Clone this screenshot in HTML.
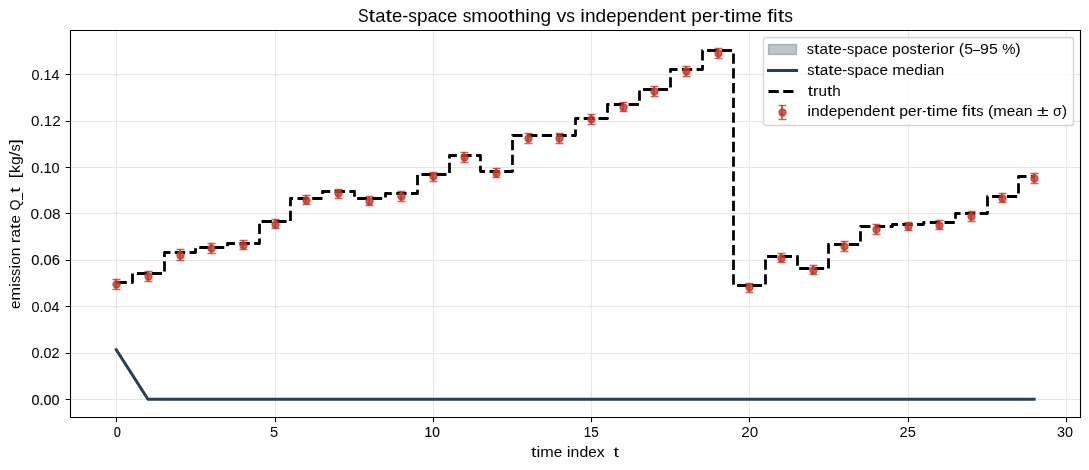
<!DOCTYPE html>
<html><head><meta charset="utf-8"><title>State-space smoothing vs independent per-time fits</title>
<style>html,body{margin:0;padding:0;background:#fff;width:1089px;height:470px;overflow:hidden;}svg{display:block;}text{font-family:"Liberation Sans",sans-serif;fill:#000;white-space:pre;}.t{opacity:0.999}</style>
</head><body>
<svg width="1089" height="470" viewBox="0 0 1089 470">
<rect width="1089" height="470" fill="#fff"/>
<path d="M116.5 30.16V417.16M275.5 30.16V417.16M433.5 30.16V417.16M591.5 30.16V417.16M749.5 30.16V417.16M908.5 30.16V417.16M1066.5 30.16V417.16M70.40 399.5H1080.02M70.40 353.5H1080.02M70.40 306.5H1080.02M70.40 260.5H1080.02M70.40 213.5H1080.02M70.40 167.5H1080.02M70.40 121.5H1080.02M70.40 74.5H1080.02" stroke="#b0b0b0" stroke-opacity="0.3" stroke-width="1.11" fill="none"/>
<path d="M116.29 349.83 L147.94 399.25 L179.59 399.25 L211.24 399.25 L242.89 399.25 L274.54 399.25 L306.19 399.25 L337.84 399.25 L369.49 399.25 L401.14 399.25 L432.79 399.25 L464.44 399.25 L496.09 399.25 L527.74 399.25 L559.39 399.25 L591.04 399.25 L622.69 399.25 L654.33 399.25 L685.98 399.25 L717.63 399.25 L749.28 399.25 L780.93 399.25 L812.58 399.25 L844.23 399.25 L875.88 399.25 L907.53 399.25 L939.18 399.25 L970.83 399.25 L1002.48 399.25 L1034.13 399.25" stroke="#2c3e50" stroke-width="3.06" fill="none" stroke-linecap="square" stroke-linejoin="round"/>
<path d="M116.5 282.5 L132.5 282.5 L132.5 273.5 L164.5 273.5 L164.5 252.5 L195.5 252.5 L195.5 247.5 L227.5 247.5 L227.5 243.5 L259.5 243.5 L259.5 221.5 L290.5 221.5 L290.5 198.5 L322.5 198.5 L322.5 191.5 L354.5 191.5 L354.5 198.5 L385.5 198.5 L385.5 193.5 L417.5 193.5 L417.5 174.5 L449.5 174.5 L449.5 155.5 L480.5 155.5 L480.5 171.5 L512.5 171.5 L512.5 135.5 L544.5 135.5 L544.5 135.5 L575.5 135.5 L575.5 118.5 L607.5 118.5 L607.5 104.5 L639.5 104.5 L639.5 89.5 L670.5 89.5 L670.5 69.5 L702.5 69.5 L702.5 50.5 L733.5 50.5 L733.5 285.5 L765.5 285.5 L765.5 256.5 L797.5 256.5 L797.5 268.5 L828.5 268.5 L828.5 244.5 L860.5 244.5 L860.5 226.5 L892.5 226.5 L892.5 224.5 L923.5 224.5 L923.5 222.5 L955.5 222.5 L955.5 213.5 L987.5 213.5 L987.5 196.5 L1018.5 196.5 L1018.5 176.5 L1034.5 176.5" stroke="#000" stroke-width="2.78" fill="none" stroke-dasharray="10.278 4.444" stroke-linejoin="round" stroke-linecap="butt"/>
<path d="M116.0 279V289M148.0 271V281M180.0 249V260M211.0 243V253M243.0 240V249M275.0 219V228M306.0 195V204M338.0 189V198M369.0 196V205M401.0 191V201M433.0 172V181M464.0 152V162M496.0 168V177M528.0 133V143M559.0 133V143M591.0 114V124M623.0 102V111M654.0 86V96M686.0 66V76M718.0 48V58M749.0 283V292M781.0 253V262M813.0 265V274M844.0 241V251M876.0 224V234M908.0 222V230M939.0 220V229M971.0 211V221M1002.0 193V202M1034.0 173V183" stroke="#c0392b" stroke-opacity="0.8" stroke-width="2.08" fill="none"/>
<g stroke="#c0392b" stroke-opacity="0.8" stroke-width="1.39" fill="none"><path d="M112.5 279.5h8M112.5 289.5h8"/><path d="M144.5 271.5h8M144.5 281.5h8"/><path d="M176.5 249.5h8M176.5 260.5h8"/><path d="M207.5 243.5h8M207.5 253.5h8"/><path d="M239.5 240.5h8M239.5 249.5h8"/><path d="M271.5 219.5h8M271.5 228.5h8"/><path d="M302.5 195.5h8M302.5 204.5h8"/><path d="M334.5 189.5h8M334.5 198.5h8"/><path d="M365.5 196.5h8M365.5 205.5h8"/><path d="M397.5 191.5h8M397.5 201.5h8"/><path d="M429.5 172.5h8M429.5 181.5h8"/><path d="M460.5 152.5h8M460.5 162.5h8"/><path d="M492.5 168.5h8M492.5 177.5h8"/><path d="M524.5 133.5h8M524.5 143.5h8"/><path d="M555.5 133.5h8M555.5 143.5h8"/><path d="M587.5 114.5h8M587.5 124.5h8"/><path d="M619.5 102.5h8M619.5 111.5h8"/><path d="M650.5 86.5h8M650.5 96.5h8"/><path d="M682.5 66.5h8M682.5 76.5h8"/><path d="M714.5 48.5h8M714.5 58.5h8"/><path d="M745.5 283.5h8M745.5 292.5h8"/><path d="M777.5 253.5h8M777.5 262.5h8"/><path d="M809.5 265.5h8M809.5 274.5h8"/><path d="M840.5 241.5h8M840.5 251.5h8"/><path d="M872.5 224.5h8M872.5 234.5h8"/><path d="M904.5 222.5h8M904.5 230.5h8"/><path d="M935.5 220.5h8M935.5 229.5h8"/><path d="M967.5 211.5h8M967.5 221.5h8"/><path d="M998.5 193.5h8M998.5 202.5h8"/><path d="M1030.5 173.5h8M1030.5 183.5h8"/></g>
<g fill="#c0392b" fill-opacity="0.8" stroke="#c0392b" stroke-opacity="0.8" stroke-width="1.39"><circle cx="116.5" cy="284.5" r="3.47"/><circle cx="148.5" cy="276.5" r="3.47"/><circle cx="180.5" cy="255.5" r="3.47"/><circle cx="211.5" cy="248.5" r="3.47"/><circle cx="243.5" cy="245.5" r="3.47"/><circle cx="275.5" cy="224.5" r="3.47"/><circle cx="306.5" cy="200.5" r="3.47"/><circle cx="338.5" cy="193.5" r="3.47"/><circle cx="369.5" cy="201.5" r="3.47"/><circle cx="401.5" cy="196.5" r="3.47"/><circle cx="433.5" cy="176.5" r="3.47"/><circle cx="464.5" cy="157.5" r="3.47"/><circle cx="496.5" cy="173.5" r="3.47"/><circle cx="528.5" cy="138.5" r="3.47"/><circle cx="559.5" cy="138.5" r="3.47"/><circle cx="591.5" cy="119.5" r="3.47"/><circle cx="623.5" cy="107.5" r="3.47"/><circle cx="654.5" cy="91.5" r="3.47"/><circle cx="686.5" cy="71.5" r="3.47"/><circle cx="718.5" cy="53.5" r="3.47"/><circle cx="749.5" cy="287.5" r="3.47"/><circle cx="781.5" cy="258.5" r="3.47"/><circle cx="813.5" cy="270.5" r="3.47"/><circle cx="844.5" cy="246.5" r="3.47"/><circle cx="876.5" cy="229.5" r="3.47"/><circle cx="908.5" cy="226.5" r="3.47"/><circle cx="939.5" cy="225.5" r="3.47"/><circle cx="971.5" cy="216.5" r="3.47"/><circle cx="1002.5" cy="198.5" r="3.47"/><circle cx="1034.5" cy="178.5" r="3.47"/></g>
<path d="M70.5 30.5V417.5M1080.5 30.5V417.5M70.5 30.5H1080.5M70.5 417.5H1080.5" stroke="#000" stroke-width="1.11" fill="none" stroke-linecap="square"/>
<path d="M116.5 417.5v4.86M275.5 417.5v4.86M433.5 417.5v4.86M591.5 417.5v4.86M749.5 417.5v4.86M908.5 417.5v4.86M1066.5 417.5v4.86M70.5 399.5h-4.86M70.5 353.5h-4.86M70.5 306.5h-4.86M70.5 260.5h-4.86M70.5 213.5h-4.86M70.5 167.5h-4.86M70.5 121.5h-4.86M70.5 74.5h-4.86" stroke="#000" stroke-width="1.11" fill="none"/>
<rect x="763.50" y="37.50" width="310.00" height="88.00" rx="2.78" fill="#fff" fill-opacity="0.8" stroke="#ccc" stroke-opacity="0.8" stroke-width="1.39"/>
<rect x="768.5" y="44.5" width="28.0" height="10.0" fill="#2c3e50" fill-opacity="0.3" stroke="#2c3e50" stroke-opacity="0.3" stroke-width="1.39"/>
<path d="M768.5 70.5H796.5" stroke="#2c3e50" stroke-width="3.06" stroke-linecap="square"/>
<path d="M768.5 91.5H796.5" stroke="#000" stroke-width="2.78" stroke-dasharray="10.278 4.444"/>
<path d="M782.0 105V119" stroke="#c0392b" stroke-opacity="0.8" stroke-width="2.08"/>
<path d="M778.5 105.5h8" stroke="#c0392b" stroke-opacity="0.8" stroke-width="1.39"/>
<path d="M778.5 119.5h8" stroke="#c0392b" stroke-opacity="0.8" stroke-width="1.39"/>
<circle cx="782.5" cy="112.5" r="3.47" fill="#c0392b" fill-opacity="0.8" stroke="#c0392b" stroke-opacity="0.8" stroke-width="1.39"/>
<g class="t">
<text x="358.00" y="21.90" font-size="18.21" textLength="10.62" lengthAdjust="spacingAndGlyphs">S</text>
<text x="368.62" y="21.90" font-size="18.21" textLength="6.56" lengthAdjust="spacingAndGlyphs">t</text>
<text x="375.17" y="21.90" font-size="18.21" textLength="10.25" lengthAdjust="spacingAndGlyphs">a</text>
<text x="385.42" y="21.90" font-size="18.21" textLength="6.56" lengthAdjust="spacingAndGlyphs">t</text>
<text x="391.97" y="21.90" font-size="18.21" textLength="10.29" lengthAdjust="spacingAndGlyphs">e</text>
<text x="402.26" y="21.90" font-size="18.21" textLength="6.03" lengthAdjust="spacingAndGlyphs">-</text>
<text x="408.29" y="21.90" font-size="18.21" textLength="8.71" lengthAdjust="spacingAndGlyphs">s</text>
<text x="417.01" y="21.90" font-size="18.21" textLength="10.62" lengthAdjust="spacingAndGlyphs">p</text>
<text x="427.62" y="21.90" font-size="18.21" textLength="10.25" lengthAdjust="spacingAndGlyphs">a</text>
<text x="437.87" y="21.90" font-size="18.21" textLength="9.19" lengthAdjust="spacingAndGlyphs">c</text>
<text x="447.06" y="21.90" font-size="18.21" textLength="10.29" lengthAdjust="spacingAndGlyphs">e</text>
<text x="462.66" y="21.90" font-size="18.21" textLength="8.71" lengthAdjust="spacingAndGlyphs">s</text>
<text x="471.38" y="21.90" font-size="18.21" textLength="16.29" lengthAdjust="spacingAndGlyphs">m</text>
<text x="487.66" y="21.90" font-size="18.21" textLength="10.23" lengthAdjust="spacingAndGlyphs">o</text>
<text x="497.89" y="21.90" font-size="18.21" textLength="10.23" lengthAdjust="spacingAndGlyphs">o</text>
<text x="508.13" y="21.90" font-size="18.21" textLength="6.56" lengthAdjust="spacingAndGlyphs">t</text>
<text x="514.68" y="21.90" font-size="18.21" textLength="10.60" lengthAdjust="spacingAndGlyphs">h</text>
<text x="525.28" y="21.90" font-size="18.21" textLength="4.65" lengthAdjust="spacingAndGlyphs">i</text>
<text x="529.92" y="21.90" font-size="18.21" textLength="10.60" lengthAdjust="spacingAndGlyphs">n</text>
<text x="540.52" y="21.90" font-size="18.21" textLength="10.62" lengthAdjust="spacingAndGlyphs">g</text>
<text x="556.45" y="21.90" font-size="18.21" textLength="9.90" lengthAdjust="spacingAndGlyphs">v</text>
<text x="566.35" y="21.90" font-size="18.21" textLength="8.71" lengthAdjust="spacingAndGlyphs">s</text>
<text x="580.37" y="21.90" font-size="18.21" textLength="4.65" lengthAdjust="spacingAndGlyphs">i</text>
<text x="585.02" y="21.90" font-size="18.21" textLength="10.60" lengthAdjust="spacingAndGlyphs">n</text>
<text x="595.62" y="21.90" font-size="18.21" textLength="10.62" lengthAdjust="spacingAndGlyphs">d</text>
<text x="606.23" y="21.90" font-size="18.21" textLength="10.29" lengthAdjust="spacingAndGlyphs">e</text>
<text x="616.52" y="21.90" font-size="18.21" textLength="10.62" lengthAdjust="spacingAndGlyphs">p</text>
<text x="627.13" y="21.90" font-size="18.21" textLength="10.29" lengthAdjust="spacingAndGlyphs">e</text>
<text x="637.42" y="21.90" font-size="18.21" textLength="10.60" lengthAdjust="spacingAndGlyphs">n</text>
<text x="648.02" y="21.90" font-size="18.21" textLength="10.62" lengthAdjust="spacingAndGlyphs">d</text>
<text x="658.64" y="21.90" font-size="18.21" textLength="10.29" lengthAdjust="spacingAndGlyphs">e</text>
<text x="668.93" y="21.90" font-size="18.21" textLength="10.60" lengthAdjust="spacingAndGlyphs">n</text>
<text x="679.52" y="21.90" font-size="18.21" textLength="6.56" lengthAdjust="spacingAndGlyphs">t</text>
<text x="691.39" y="21.90" font-size="18.21" textLength="10.62" lengthAdjust="spacingAndGlyphs">p</text>
<text x="702.01" y="21.90" font-size="18.21" textLength="10.29" lengthAdjust="spacingAndGlyphs">e</text>
<text x="712.30" y="21.90" font-size="18.21" textLength="6.87" lengthAdjust="spacingAndGlyphs">r</text>
<text x="719.17" y="21.90" font-size="18.21" textLength="4.96" lengthAdjust="spacingAndGlyphs">-</text>
<text x="724.13" y="21.90" font-size="18.21" textLength="6.56" lengthAdjust="spacingAndGlyphs">t</text>
<text x="730.69" y="21.90" font-size="18.21" textLength="4.65" lengthAdjust="spacingAndGlyphs">i</text>
<text x="735.33" y="21.90" font-size="18.21" textLength="16.29" lengthAdjust="spacingAndGlyphs">m</text>
<text x="751.62" y="21.90" font-size="18.21" textLength="10.29" lengthAdjust="spacingAndGlyphs">e</text>
<text x="767.23" y="21.90" font-size="18.21" textLength="5.89" lengthAdjust="spacingAndGlyphs">f</text>
<text x="773.11" y="21.90" font-size="18.21" textLength="4.65" lengthAdjust="spacingAndGlyphs">i</text>
<text x="777.76" y="21.90" font-size="18.21" textLength="6.56" lengthAdjust="spacingAndGlyphs">t</text>
<text x="784.31" y="21.90" font-size="18.21" textLength="8.71" lengthAdjust="spacingAndGlyphs">s</text>
<text x="531.00" y="456.94" font-size="14.29" textLength="5.44" lengthAdjust="spacingAndGlyphs">t</text>
<text x="536.44" y="456.94" font-size="14.29" textLength="3.86" lengthAdjust="spacingAndGlyphs">i</text>
<text x="540.30" y="456.94" font-size="14.29" textLength="13.52" lengthAdjust="spacingAndGlyphs">m</text>
<text x="553.81" y="456.94" font-size="14.29" textLength="8.54" lengthAdjust="spacingAndGlyphs">e</text>
<text x="566.77" y="456.94" font-size="14.29" textLength="3.86" lengthAdjust="spacingAndGlyphs">i</text>
<text x="570.62" y="456.94" font-size="14.29" textLength="8.80" lengthAdjust="spacingAndGlyphs">n</text>
<text x="579.42" y="456.94" font-size="14.29" textLength="8.81" lengthAdjust="spacingAndGlyphs">d</text>
<text x="588.23" y="456.94" font-size="14.29" textLength="8.54" lengthAdjust="spacingAndGlyphs">e</text>
<text x="596.77" y="456.94" font-size="14.29" textLength="7.97" lengthAdjust="spacingAndGlyphs">x</text>
<text x="613.56" y="456.94" font-size="14.29" textLength="5.44" lengthAdjust="spacingAndGlyphs">t</text>
<text transform="translate(19.87 309.00) rotate(-90)" font-size="14.29" textLength="8.53" lengthAdjust="spacingAndGlyphs">e</text>
<text transform="translate(19.87 300.47) rotate(-90)" font-size="14.29" textLength="13.50" lengthAdjust="spacingAndGlyphs">m</text>
<text transform="translate(19.87 286.97) rotate(-90)" font-size="14.29" textLength="3.85" lengthAdjust="spacingAndGlyphs">i</text>
<text transform="translate(19.87 283.12) rotate(-90)" font-size="14.29" textLength="7.22" lengthAdjust="spacingAndGlyphs">s</text>
<text transform="translate(19.87 275.90) rotate(-90)" font-size="14.29" textLength="7.22" lengthAdjust="spacingAndGlyphs">s</text>
<text transform="translate(19.87 268.68) rotate(-90)" font-size="14.29" textLength="3.85" lengthAdjust="spacingAndGlyphs">i</text>
<text transform="translate(19.87 264.83) rotate(-90)" font-size="14.29" textLength="8.48" lengthAdjust="spacingAndGlyphs">o</text>
<text transform="translate(19.87 256.35) rotate(-90)" font-size="14.29" textLength="8.78" lengthAdjust="spacingAndGlyphs">n</text>
<text transform="translate(19.87 243.16) rotate(-90)" font-size="14.29" textLength="5.70" lengthAdjust="spacingAndGlyphs">r</text>
<text transform="translate(19.87 237.46) rotate(-90)" font-size="14.29" textLength="8.49" lengthAdjust="spacingAndGlyphs">a</text>
<text transform="translate(19.87 228.96) rotate(-90)" font-size="14.29" textLength="5.43" lengthAdjust="spacingAndGlyphs">t</text>
<text transform="translate(19.87 223.53) rotate(-90)" font-size="14.29" textLength="8.53" lengthAdjust="spacingAndGlyphs">e</text>
<text transform="translate(19.87 210.59) rotate(-90)" font-size="14.29" textLength="10.91" lengthAdjust="spacingAndGlyphs">Q</text>
<text transform="translate(19.87 199.68) rotate(-90)" font-size="14.29" textLength="6.93" lengthAdjust="spacingAndGlyphs">_</text>
<text transform="translate(19.87 192.75) rotate(-90)" font-size="14.29" textLength="5.43" lengthAdjust="spacingAndGlyphs">t</text>
<text transform="translate(19.87 178.51) rotate(-90)" font-size="14.29" textLength="5.41" lengthAdjust="spacingAndGlyphs">[</text>
<text transform="translate(19.87 173.10) rotate(-90)" font-size="14.29" textLength="8.03" lengthAdjust="spacingAndGlyphs">k</text>
<text transform="translate(19.87 165.07) rotate(-90)" font-size="14.29" textLength="8.80" lengthAdjust="spacingAndGlyphs">g</text>
<text transform="translate(19.87 156.27) rotate(-90)" font-size="14.29" textLength="4.67" lengthAdjust="spacingAndGlyphs">/</text>
<text transform="translate(19.87 151.60) rotate(-90)" font-size="14.29" textLength="7.22" lengthAdjust="spacingAndGlyphs">s</text>
<text transform="translate(19.87 144.38) rotate(-90)" font-size="14.29" textLength="5.41" lengthAdjust="spacingAndGlyphs">]</text>
<text x="31.50" y="404.75" font-size="15.18" textLength="8.01" lengthAdjust="spacingAndGlyphs" stroke="#000" stroke-width="0.17">0</text>
<text x="39.51" y="404.75" font-size="15.18" textLength="4.00" lengthAdjust="spacingAndGlyphs" stroke="#000" stroke-width="0.17">.</text>
<text x="43.51" y="404.75" font-size="15.18" textLength="8.01" lengthAdjust="spacingAndGlyphs" stroke="#000" stroke-width="0.17">0</text>
<text x="51.52" y="404.75" font-size="15.18" textLength="8.01" lengthAdjust="spacingAndGlyphs" stroke="#000" stroke-width="0.17">0</text>
<text x="31.50" y="357.80" font-size="15.18" textLength="8.01" lengthAdjust="spacingAndGlyphs" stroke="#000" stroke-width="0.08">0</text>
<text x="39.51" y="357.80" font-size="15.18" textLength="4.00" lengthAdjust="spacingAndGlyphs" stroke="#000" stroke-width="0.08">.</text>
<text x="43.51" y="357.80" font-size="15.18" textLength="8.01" lengthAdjust="spacingAndGlyphs" stroke="#000" stroke-width="0.08">0</text>
<text x="51.53" y="357.80" font-size="15.18" textLength="8.01" lengthAdjust="spacingAndGlyphs" stroke="#000" stroke-width="0.08">2</text>
<text x="31.50" y="311.85" font-size="15.18" textLength="8.00" lengthAdjust="spacingAndGlyphs">0</text>
<text x="39.50" y="311.85" font-size="15.18" textLength="4.00" lengthAdjust="spacingAndGlyphs">.</text>
<text x="43.50" y="311.85" font-size="15.18" textLength="8.00" lengthAdjust="spacingAndGlyphs">0</text>
<text x="51.50" y="311.85" font-size="15.18" textLength="8.00" lengthAdjust="spacingAndGlyphs">4</text>
<text x="31.25" y="264.90" font-size="14.29" textLength="8.18" lengthAdjust="spacingAndGlyphs" stroke="#000" stroke-width="0.13">0</text>
<text x="39.43" y="264.90" font-size="14.29" textLength="4.09" lengthAdjust="spacingAndGlyphs" stroke="#000" stroke-width="0.13">.</text>
<text x="43.52" y="264.90" font-size="14.29" textLength="8.18" lengthAdjust="spacingAndGlyphs" stroke="#000" stroke-width="0.13">0</text>
<text x="51.70" y="264.90" font-size="14.29" textLength="8.18" lengthAdjust="spacingAndGlyphs" stroke="#000" stroke-width="0.13">6</text>
<text x="30.50" y="218.95" font-size="14.29" textLength="8.60" lengthAdjust="spacingAndGlyphs">0</text>
<text x="39.10" y="218.95" font-size="14.29" textLength="4.30" lengthAdjust="spacingAndGlyphs">.</text>
<text x="43.40" y="218.95" font-size="14.29" textLength="8.60" lengthAdjust="spacingAndGlyphs">0</text>
<text x="52.01" y="218.95" font-size="14.29" textLength="8.60" lengthAdjust="spacingAndGlyphs">8</text>
<text x="31.25" y="172.50" font-size="15.18" textLength="8.13" lengthAdjust="spacingAndGlyphs" stroke="#000" stroke-width="0.07">0</text>
<text x="39.38" y="172.50" font-size="15.18" textLength="4.06" lengthAdjust="spacingAndGlyphs" stroke="#000" stroke-width="0.07">.</text>
<text x="43.44" y="172.50" font-size="15.18" textLength="8.13" lengthAdjust="spacingAndGlyphs" stroke="#000" stroke-width="0.07">1</text>
<text x="51.57" y="172.50" font-size="15.18" textLength="8.13" lengthAdjust="spacingAndGlyphs" stroke="#000" stroke-width="0.07">0</text>
<text x="31.00" y="125.55" font-size="15.18" textLength="8.48" lengthAdjust="spacingAndGlyphs">0</text>
<text x="39.48" y="125.55" font-size="15.18" textLength="4.23" lengthAdjust="spacingAndGlyphs">.</text>
<text x="43.71" y="125.55" font-size="15.18" textLength="8.48" lengthAdjust="spacingAndGlyphs">1</text>
<text x="52.19" y="125.55" font-size="15.18" textLength="8.48" lengthAdjust="spacingAndGlyphs">2</text>
<text x="31.50" y="79.60" font-size="14.29" textLength="8.00" lengthAdjust="spacingAndGlyphs">0</text>
<text x="39.50" y="79.60" font-size="14.29" textLength="4.00" lengthAdjust="spacingAndGlyphs">.</text>
<text x="43.50" y="79.60" font-size="14.29" textLength="8.00" lengthAdjust="spacingAndGlyphs">1</text>
<text x="51.50" y="79.60" font-size="14.29" textLength="8.00" lengthAdjust="spacingAndGlyphs">4</text>
<text x="113.75" y="436.88" font-size="14.29" textLength="7.10" lengthAdjust="spacingAndGlyphs" stroke="#000" stroke-width="0.19">0</text>
<text x="270.00" y="436.88" font-size="14.29" textLength="8.17" lengthAdjust="spacingAndGlyphs">5</text>
<text x="424.50" y="436.88" font-size="14.29" textLength="7.65" lengthAdjust="spacingAndGlyphs" stroke="#000" stroke-width="0.18">1</text>
<text x="432.15" y="436.88" font-size="14.29" textLength="7.65" lengthAdjust="spacingAndGlyphs" stroke="#000" stroke-width="0.18">0</text>
<text x="583.75" y="436.88" font-size="15.18" textLength="7.54" lengthAdjust="spacingAndGlyphs" stroke="#000" stroke-width="0.05">1</text>
<text x="591.29" y="436.88" font-size="15.18" textLength="7.54" lengthAdjust="spacingAndGlyphs" stroke="#000" stroke-width="0.05">5</text>
<text x="741.25" y="436.88" font-size="14.73" textLength="8.48" lengthAdjust="spacingAndGlyphs">2</text>
<text x="749.73" y="436.88" font-size="14.73" textLength="8.48" lengthAdjust="spacingAndGlyphs">0</text>
<text x="899.50" y="436.88" font-size="14.73" textLength="8.19" lengthAdjust="spacingAndGlyphs">2</text>
<text x="907.69" y="436.88" font-size="14.73" textLength="8.19" lengthAdjust="spacingAndGlyphs">5</text>
<text x="1057.00" y="436.88" font-size="14.73" textLength="8.04" lengthAdjust="spacingAndGlyphs">3</text>
<text x="1065.04" y="436.88" font-size="14.73" textLength="8.04" lengthAdjust="spacingAndGlyphs">0</text>
<text x="806.75" y="53.66" font-size="15.18" textLength="7.24" lengthAdjust="spacingAndGlyphs">s</text>
<text x="813.99" y="53.66" font-size="15.18" textLength="5.45" lengthAdjust="spacingAndGlyphs">t</text>
<text x="819.43" y="53.66" font-size="15.18" textLength="8.51" lengthAdjust="spacingAndGlyphs">a</text>
<text x="827.94" y="53.66" font-size="15.18" textLength="5.45" lengthAdjust="spacingAndGlyphs">t</text>
<text x="833.39" y="53.66" font-size="15.18" textLength="8.55" lengthAdjust="spacingAndGlyphs">e</text>
<text x="841.94" y="53.66" font-size="15.18" textLength="5.01" lengthAdjust="spacingAndGlyphs">-</text>
<text x="846.95" y="53.66" font-size="15.18" textLength="7.24" lengthAdjust="spacingAndGlyphs">s</text>
<text x="854.19" y="53.66" font-size="15.18" textLength="8.82" lengthAdjust="spacingAndGlyphs">p</text>
<text x="863.00" y="53.66" font-size="15.18" textLength="8.51" lengthAdjust="spacingAndGlyphs">a</text>
<text x="871.52" y="53.66" font-size="15.18" textLength="7.64" lengthAdjust="spacingAndGlyphs">c</text>
<text x="879.15" y="53.66" font-size="15.18" textLength="8.55" lengthAdjust="spacingAndGlyphs">e</text>
<text x="892.12" y="53.66" font-size="15.18" textLength="8.82" lengthAdjust="spacingAndGlyphs">p</text>
<text x="900.93" y="53.66" font-size="15.18" textLength="8.50" lengthAdjust="spacingAndGlyphs">o</text>
<text x="909.43" y="53.66" font-size="15.18" textLength="7.24" lengthAdjust="spacingAndGlyphs">s</text>
<text x="916.67" y="53.66" font-size="15.18" textLength="5.45" lengthAdjust="spacingAndGlyphs">t</text>
<text x="922.12" y="53.66" font-size="15.18" textLength="8.55" lengthAdjust="spacingAndGlyphs">e</text>
<text x="930.66" y="53.66" font-size="15.18" textLength="5.71" lengthAdjust="spacingAndGlyphs">r</text>
<text x="936.37" y="53.66" font-size="15.18" textLength="3.86" lengthAdjust="spacingAndGlyphs">i</text>
<text x="940.23" y="53.66" font-size="15.18" textLength="8.50" lengthAdjust="spacingAndGlyphs">o</text>
<text x="948.73" y="53.66" font-size="15.18" textLength="5.71" lengthAdjust="spacingAndGlyphs">r</text>
<text x="958.86" y="53.66" font-size="15.18" textLength="5.42" lengthAdjust="spacingAndGlyphs">(</text>
<text x="964.28" y="53.66" font-size="15.18" textLength="8.84" lengthAdjust="spacingAndGlyphs">5</text>
<text x="973.11" y="53.66" font-size="15.18" textLength="6.95" lengthAdjust="spacingAndGlyphs">–</text>
<text x="980.06" y="53.66" font-size="15.18" textLength="8.84" lengthAdjust="spacingAndGlyphs">9</text>
<text x="988.90" y="53.66" font-size="15.18" textLength="8.84" lengthAdjust="spacingAndGlyphs">5</text>
<text x="1002.15" y="53.66" font-size="15.18" textLength="13.20" lengthAdjust="spacingAndGlyphs">%</text>
<text x="1015.35" y="53.66" font-size="15.18" textLength="5.42" lengthAdjust="spacingAndGlyphs">)</text>
<text x="807.25" y="74.60" font-size="14.73" textLength="7.21" lengthAdjust="spacingAndGlyphs">s</text>
<text x="814.46" y="74.60" font-size="14.73" textLength="5.43" lengthAdjust="spacingAndGlyphs">t</text>
<text x="819.89" y="74.60" font-size="14.73" textLength="8.49" lengthAdjust="spacingAndGlyphs">a</text>
<text x="828.38" y="74.60" font-size="14.73" textLength="5.43" lengthAdjust="spacingAndGlyphs">t</text>
<text x="833.81" y="74.60" font-size="14.73" textLength="8.52" lengthAdjust="spacingAndGlyphs">e</text>
<text x="842.33" y="74.60" font-size="14.73" textLength="5.00" lengthAdjust="spacingAndGlyphs">-</text>
<text x="847.33" y="74.60" font-size="14.73" textLength="7.21" lengthAdjust="spacingAndGlyphs">s</text>
<text x="854.54" y="74.60" font-size="14.73" textLength="8.79" lengthAdjust="spacingAndGlyphs">p</text>
<text x="863.34" y="74.60" font-size="14.73" textLength="8.49" lengthAdjust="spacingAndGlyphs">a</text>
<text x="871.82" y="74.60" font-size="14.73" textLength="7.62" lengthAdjust="spacingAndGlyphs">c</text>
<text x="879.44" y="74.60" font-size="14.73" textLength="8.52" lengthAdjust="spacingAndGlyphs">e</text>
<text x="892.36" y="74.60" font-size="14.73" textLength="13.49" lengthAdjust="spacingAndGlyphs">m</text>
<text x="905.85" y="74.60" font-size="14.73" textLength="8.52" lengthAdjust="spacingAndGlyphs">e</text>
<text x="914.38" y="74.60" font-size="14.73" textLength="8.79" lengthAdjust="spacingAndGlyphs">d</text>
<text x="923.17" y="74.60" font-size="14.73" textLength="3.85" lengthAdjust="spacingAndGlyphs">i</text>
<text x="927.02" y="74.60" font-size="14.73" textLength="8.49" lengthAdjust="spacingAndGlyphs">a</text>
<text x="935.50" y="74.60" font-size="14.73" textLength="8.78" lengthAdjust="spacingAndGlyphs">n</text>
<text x="807.75" y="95.55" font-size="14.29" textLength="5.26" lengthAdjust="spacingAndGlyphs" stroke="#000" stroke-width="0.02">t</text>
<text x="813.01" y="95.55" font-size="14.29" textLength="5.51" lengthAdjust="spacingAndGlyphs" stroke="#000" stroke-width="0.02">r</text>
<text x="818.52" y="95.55" font-size="14.29" textLength="8.50" lengthAdjust="spacingAndGlyphs" stroke="#000" stroke-width="0.02">u</text>
<text x="827.02" y="95.55" font-size="14.29" textLength="5.26" lengthAdjust="spacingAndGlyphs" stroke="#000" stroke-width="0.02">t</text>
<text x="832.28" y="95.55" font-size="14.29" textLength="8.50" lengthAdjust="spacingAndGlyphs" stroke="#000" stroke-width="0.02">h</text>
<text x="807.25" y="115.99" font-size="14.73" textLength="3.85" lengthAdjust="spacingAndGlyphs">i</text>
<text x="811.10" y="115.99" font-size="14.73" textLength="8.78" lengthAdjust="spacingAndGlyphs">n</text>
<text x="819.89" y="115.99" font-size="14.73" textLength="8.80" lengthAdjust="spacingAndGlyphs">d</text>
<text x="828.68" y="115.99" font-size="14.73" textLength="8.53" lengthAdjust="spacingAndGlyphs">e</text>
<text x="837.21" y="115.99" font-size="14.73" textLength="8.80" lengthAdjust="spacingAndGlyphs">p</text>
<text x="846.01" y="115.99" font-size="14.73" textLength="8.53" lengthAdjust="spacingAndGlyphs">e</text>
<text x="854.54" y="115.99" font-size="14.73" textLength="8.78" lengthAdjust="spacingAndGlyphs">n</text>
<text x="863.33" y="115.99" font-size="14.73" textLength="8.80" lengthAdjust="spacingAndGlyphs">d</text>
<text x="872.13" y="115.99" font-size="14.73" textLength="8.53" lengthAdjust="spacingAndGlyphs">e</text>
<text x="880.65" y="115.99" font-size="14.73" textLength="8.78" lengthAdjust="spacingAndGlyphs">n</text>
<text x="889.44" y="115.99" font-size="14.73" textLength="5.43" lengthAdjust="spacingAndGlyphs">t</text>
<text x="899.28" y="115.99" font-size="14.73" textLength="8.80" lengthAdjust="spacingAndGlyphs">p</text>
<text x="908.08" y="115.99" font-size="14.73" textLength="8.53" lengthAdjust="spacingAndGlyphs">e</text>
<text x="916.61" y="115.99" font-size="14.73" textLength="5.70" lengthAdjust="spacingAndGlyphs">r</text>
<text x="922.31" y="115.99" font-size="14.73" textLength="4.11" lengthAdjust="spacingAndGlyphs">-</text>
<text x="926.42" y="115.99" font-size="14.73" textLength="5.43" lengthAdjust="spacingAndGlyphs">t</text>
<text x="931.85" y="115.99" font-size="14.73" textLength="3.85" lengthAdjust="spacingAndGlyphs">i</text>
<text x="935.70" y="115.99" font-size="14.73" textLength="13.50" lengthAdjust="spacingAndGlyphs">m</text>
<text x="949.21" y="115.99" font-size="14.73" textLength="8.53" lengthAdjust="spacingAndGlyphs">e</text>
<text x="962.14" y="115.99" font-size="14.73" textLength="4.88" lengthAdjust="spacingAndGlyphs">f</text>
<text x="967.02" y="115.99" font-size="14.73" textLength="3.85" lengthAdjust="spacingAndGlyphs">i</text>
<text x="970.87" y="115.99" font-size="14.73" textLength="5.43" lengthAdjust="spacingAndGlyphs">t</text>
<text x="976.30" y="115.99" font-size="14.73" textLength="7.22" lengthAdjust="spacingAndGlyphs">s</text>
<text x="987.93" y="115.99" font-size="14.73" textLength="5.41" lengthAdjust="spacingAndGlyphs">(</text>
<text x="993.34" y="115.99" font-size="14.73" textLength="13.50" lengthAdjust="spacingAndGlyphs">m</text>
<text x="1006.84" y="115.99" font-size="14.73" textLength="8.53" lengthAdjust="spacingAndGlyphs">e</text>
<text x="1015.37" y="115.99" font-size="14.73" textLength="8.49" lengthAdjust="spacingAndGlyphs">a</text>
<text x="1023.86" y="115.99" font-size="14.73" textLength="8.78" lengthAdjust="spacingAndGlyphs">n</text>
<text x="1037.05" y="115.99" font-size="14.73" textLength="11.62" lengthAdjust="spacingAndGlyphs">±</text>
<text x="1053.07" y="115.99" font-size="14.73" textLength="8.78" lengthAdjust="spacingAndGlyphs">σ</text>
<text x="1061.86" y="115.99" font-size="14.73" textLength="5.41" lengthAdjust="spacingAndGlyphs">)</text>
</g>
</svg>
</body></html>
